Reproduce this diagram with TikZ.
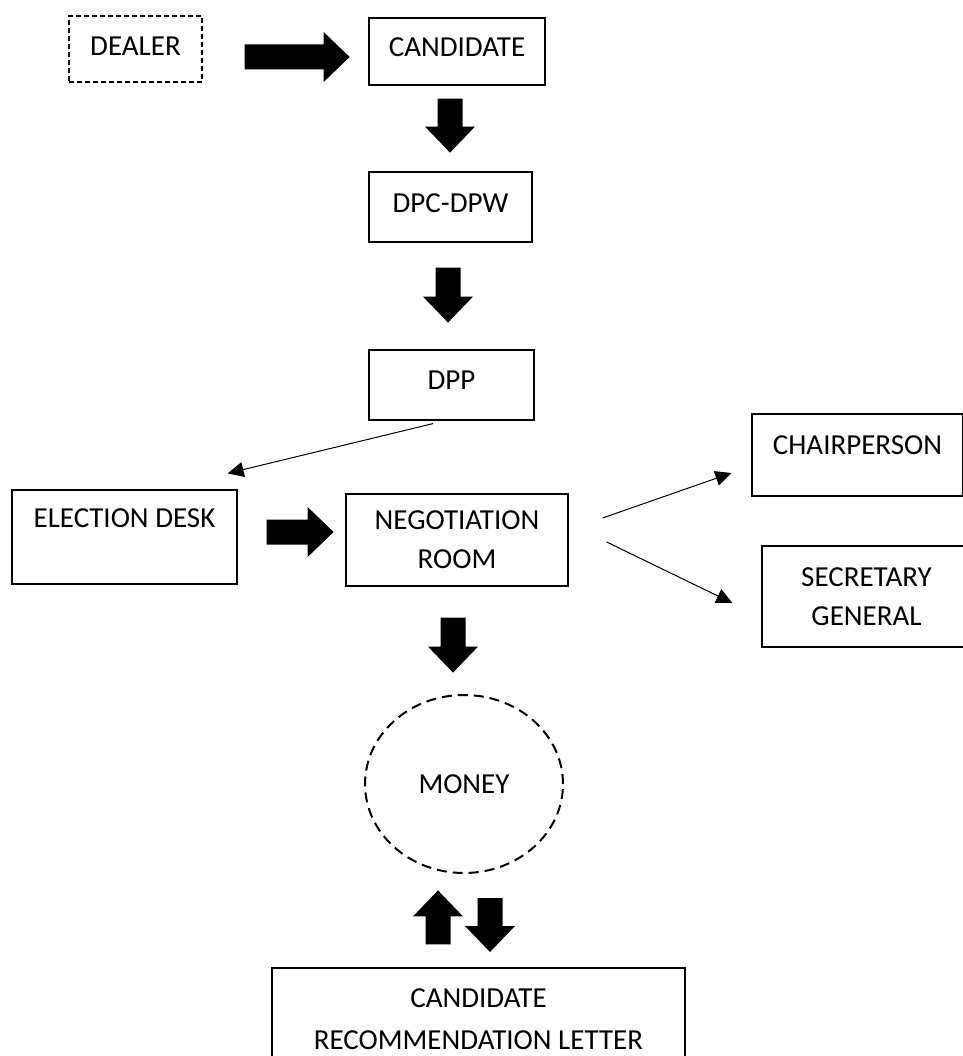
\documentclass[tikz,border=0pt]{standalone}
\usepackage{fontspec}
\setmainfont{Carlito}
\usetikzlibrary{shapes.geometric,arrows.meta}
\tikzset{
% Boxes of the chart: plain, dashed and the dashed ring
box/.style={draw,rectangle,line width=1.2pt,inner sep=0,align=center},
dashed box/.style={box,dash pattern=on 5pt off 3pt},
ring/.style={draw,ellipse,line width=2pt,dash pattern=on 10pt off 6pt,inner sep=0},
thin arrow/.style={line width=1pt,-{Triangle[length=16pt,width=15pt]}},
% Block arrow, drawn from the tail, #1 is its length
pics/fat arrow/.style={code={
\fill (0,-12.5) -- ({#1-26},-12.5) -- ({#1-26},-25) -- (#1,0) -- ({#1-26},25) -- ({#1-26},12.5) -- (0,12.5) -- cycle;
}}
}

\begin{document}
\begin{tikzpicture}[x=1pt,y=-1pt,font=\fontsize{29}{39}\selectfont]
\useasboundingbox (0,0) rectangle (962,1056);
% The boxes
\node(dealer)[dashed box,minimum width=133,minimum height=66,text depth=5pt] at (135.5,49) {DEALER};
\node(cand)[box,minimum width=176,minimum height=67,text depth=8pt] at (457,51.5) {CANDIDATE};
\node(dpc)[box,minimum width=163,minimum height=70,text depth=8pt] at (450.5,207) {DPC-DPW};
\node(dpp)[box,minimum width=165,minimum height=70,text depth=10pt] at (451.5,385) {DPP};
\node(elect)[box,minimum width=225,minimum height=94,text depth=38pt] at (124.5,537) {ELECTION DESK};
\node(nego)[box,minimum width=222,minimum height=92] at (457,540) {NEGOTIATION\\ROOM};
\node(chair)[box,minimum width=211,minimum height=82,text depth=20pt] at (857.5,455) {CHAIRPERSON};
\node(sec)[box,minimum width=209,minimum height=101] at (866.5,596.5) {SECRETARY\\GENERAL};
\node(money)[ring,minimum width=198,minimum height=178] at (464,784) {MONEY};
\node(letter)[box,minimum width=413,minimum height=102,font=\fontsize{29}{42}\selectfont] at (478.5,1019) {CANDIDATE\\RECOMMENDATION LETTER};
% Block arrows
\pic at ([shift={(42pt,-8pt)}]dealer.east) {fat arrow=105};
\pic[rotate=-90] at ([shift={(-7pt,-13pt)}]cand.south) {fat arrow=54};
\pic[rotate=-90] at ([shift={(-2.5pt,-25pt)}]dpc.south) {fat arrow=55};
\pic at ([shift={(29pt,5pt)}]elect.east) {fat arrow=67};
\pic[rotate=-90] at ([shift={(-4pt,-31pt)}]nego.south) {fat arrow=55};
\pic[rotate=90] at ([shift={(-40.5pt,23pt)}]letter.north) {fat arrow=54};
\pic[rotate=-90] at ([shift={(26pt,-24pt)}]money.south) {fat arrow=54};
% Thin arrows
\draw[thin arrow] ([shift={(-18.5pt,-3pt)}]dpp.south) -- ([shift={(-10pt,16pt)}]elect.north east);
\draw[thin arrow] ([shift={(34pt,22pt)}]nego.east) -- ([shift={(-20pt,-18pt)}]chair.west);
\draw[thin arrow] ([shift={(38pt,-2pt)}]nego.east) -- ([shift={(-29pt,-6.5pt)}]sec.west);
\end{tikzpicture}
\end{document}
